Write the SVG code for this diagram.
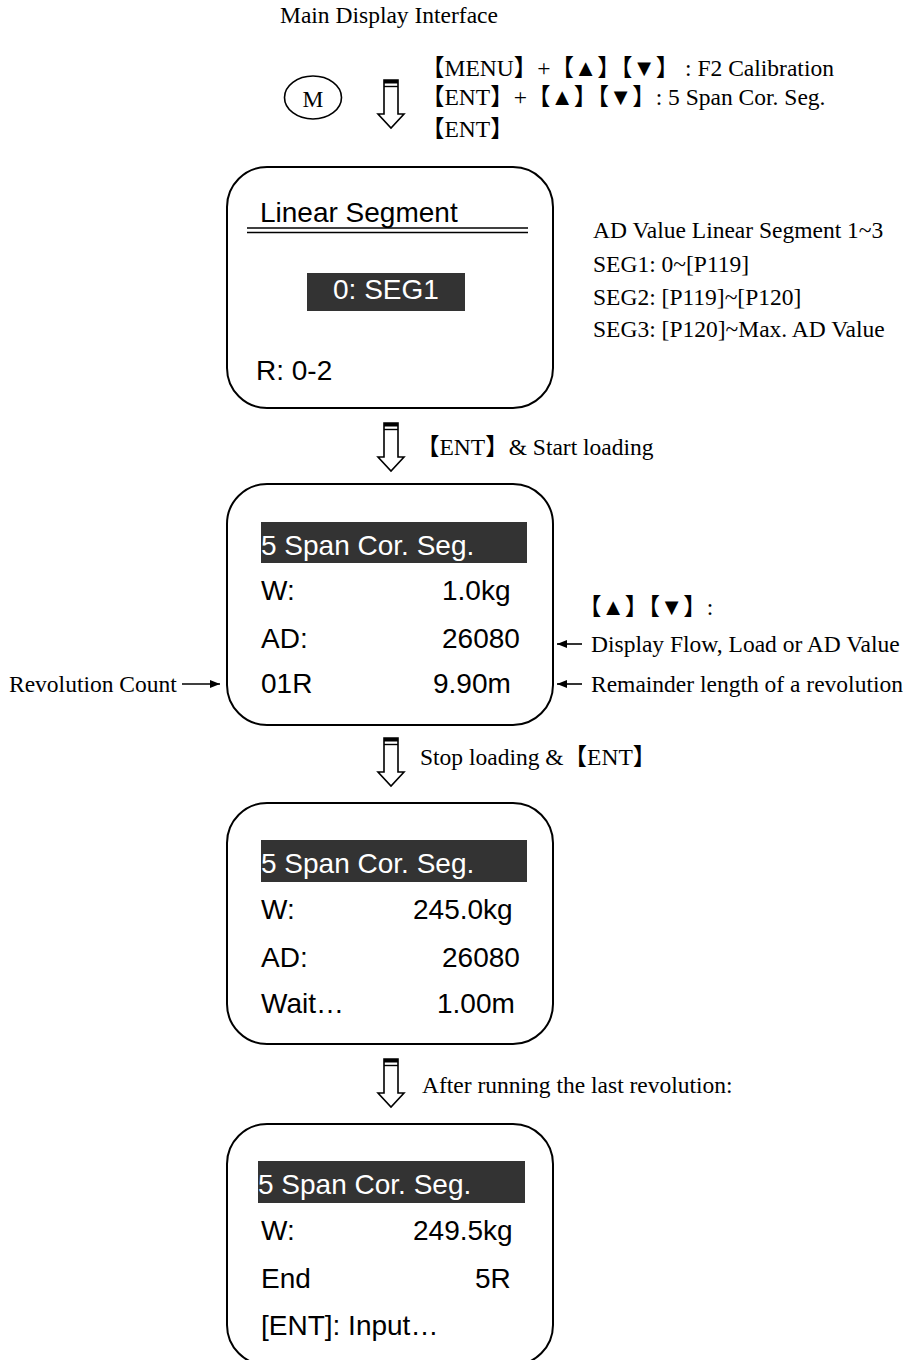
<svg xmlns="http://www.w3.org/2000/svg" width="916" height="1360" viewBox="0 0 916 1360">
  <style>
    .serif { font-family: "Liberation Serif", "Times New Roman", "Noto Sans CJK SC", serif; font-size: 23.5px; fill: #000; }
    .sans { font-family: "Liberation Sans", Arial, sans-serif; font-size: 28px; fill: #000; }
    .inv { fill: #fff; }
    .box { fill: #fff; stroke: #000; stroke-width: 2; }
    .bar { fill: #333; }
    .thin { stroke: #000; stroke-width: 1.6; fill: none; }
  </style>
  <defs>
    <g id="hollow">
      <path d="M -7,0 L 7,0 L 7,34 L 13,34 L 0,48 L -13,34 L -7,34 Z" fill="#fff" stroke="#000" stroke-width="1.6" stroke-linejoin="miter"/>
      <rect x="-7" y="0" width="14" height="3.5" fill="#000"/>
      <line x1="-7" y1="6.5" x2="7" y2="6.5" stroke="#000" stroke-width="1.4"/>
    </g>
    <marker id="head" viewBox="0 0 10 8" refX="10" refY="4" markerWidth="10" markerHeight="8" markerUnits="userSpaceOnUse" orient="auto">
      <path d="M0,0 L10,4 L0,8 Z" fill="#000"/>
    </marker>
  </defs>
  <rect width="916" height="1360" fill="#fff"/>

  <text class="serif" x="280" y="23">Main Display Interface</text>

  <g id="node-m">
    <ellipse cx="313" cy="97.5" rx="28.5" ry="21.5" class="thin"/>
    <text class="serif" x="313" y="107" text-anchor="middle">M</text>
  </g>

  <g id="label-menu">
    <text class="serif" x="421" y="76">【MENU】+【▲】【▼】 : F2 Calibration</text>
    <text class="serif" x="421" y="105">【ENT】+【▲】【▼】:  5 Span Cor. Seg.</text>
    <text class="serif" x="421" y="137">【ENT】</text>
  </g>

  <g id="node-linear">
    <rect class="box" x="227" y="167" width="326" height="241" rx="40" ry="40"/>
    <text class="sans" x="260" y="222">Linear Segment</text>
    <line x1="247" y1="228" x2="528" y2="228" stroke="#000" stroke-width="1.6"/>
    <line x1="247" y1="232.5" x2="528" y2="232.5" stroke="#000" stroke-width="1.6"/>
    <rect class="bar" x="307" y="273" width="158" height="38"/>
    <text class="sans inv" x="333" y="299">0: SEG1</text>
    <text class="sans" x="256" y="380">R: 0-2</text>
  </g>

  <g id="note-seg">
    <text class="serif" x="593" y="238">AD Value Linear Segment 1~3</text>
    <text class="serif" x="593" y="272">SEG1: 0~[P119]</text>
    <text class="serif" x="593" y="305">SEG2: [P119]~[P120]</text>
    <text class="serif" x="593" y="337">SEG3: [P120]~Max. AD Value</text>
  </g>

  <g id="node-run">
    <rect class="box" x="227" y="484" width="326" height="241" rx="40" ry="40"/>
    <rect class="bar" x="261" y="522" width="266" height="41"/>
    <text class="sans inv" x="261" y="555">5 Span Cor. Seg.</text>
    <text class="sans" x="261" y="600">W:</text>
    <text class="sans" x="442" y="600">1.0kg</text>
    <text class="sans" x="261" y="648">AD:</text>
    <text class="sans" x="442" y="648">26080</text>
    <text class="sans" x="261" y="693">01R</text>
    <text class="sans" x="433" y="693">9.90m</text>
  </g>

  <g id="note-keys">
    <text class="serif" x="578" y="615">【▲】【▼】:</text>
    <text class="serif" x="591" y="652">Display Flow, Load or AD Value</text>
    <text class="serif" x="591" y="692">Remainder length of a revolution</text>
  </g>

  <g id="note-rev">
    <text class="serif" x="9" y="692">Revolution Count</text>
  </g>

  <g id="node-wait">
    <rect class="box" x="227" y="803" width="326" height="241" rx="40" ry="40"/>
    <rect class="bar" x="261" y="840" width="266" height="42"/>
    <text class="sans inv" x="261" y="873">5 Span Cor. Seg.</text>
    <text class="sans" x="261" y="919">W:</text>
    <text class="sans" x="413" y="919">245.0kg</text>
    <text class="sans" x="261" y="967">AD:</text>
    <text class="sans" x="442" y="967">26080</text>
    <text class="sans" x="261" y="1013">Wait…</text>
    <text class="sans" x="437" y="1013">1.00m</text>
  </g>

  <g id="node-end">
    <rect class="box" x="227" y="1124" width="326" height="241" rx="40" ry="40"/>
    <rect class="bar" x="258" y="1161" width="267" height="42"/>
    <text class="sans inv" x="258" y="1194">5 Span Cor. Seg.</text>
    <text class="sans" x="261" y="1240">W:</text>
    <text class="sans" x="413" y="1240">249.5kg</text>
    <text class="sans" x="261" y="1288">End</text>
    <text class="sans" x="475" y="1288">5R</text>
    <text class="sans" x="261" y="1335">[ENT]: Input…</text>
  </g>

  <g id="connectors">
    <use href="#hollow" x="391" y="80"/>
    <use href="#hollow" x="391" y="423"/>
    <text class="serif" x="416" y="455">【ENT】&amp; Start loading</text>
    <use href="#hollow" x="391" y="738"/>
    <text class="serif" x="420" y="765">Stop loading &amp;【ENT】</text>
    <use href="#hollow" x="391" y="1059"/>
    <text class="serif" x="422" y="1093">After running the last revolution:</text>
    <line x1="182" y1="684" x2="220" y2="684" stroke="#000" stroke-width="1.6" marker-end="url(#head)"/>
    <line x1="582" y1="644" x2="557" y2="644" stroke="#000" stroke-width="1.6" marker-end="url(#head)"/>
    <line x1="582" y1="684" x2="557" y2="684" stroke="#000" stroke-width="1.6" marker-end="url(#head)"/>
  </g>
</svg>
